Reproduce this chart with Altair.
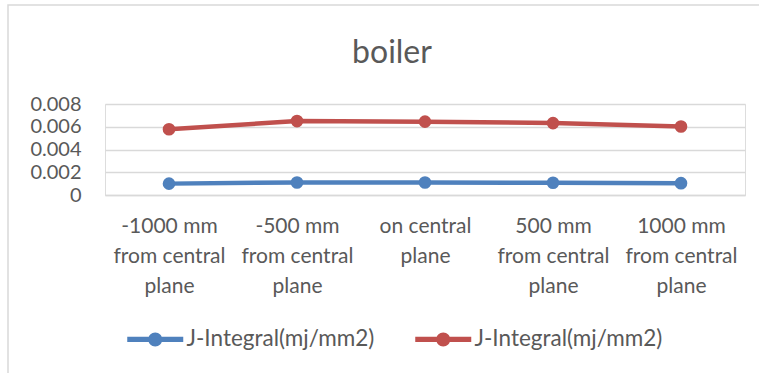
import altair as alt
import pandas as pd

# Measurement positions along the boiler (one label line per "\n")
categories = [
    "-1000 mm\nfrom central\nplane",
    "-500 mm\nfrom central\nplane",
    "on central\nplane",
    "500 mm\nfrom central\nplane",
    "1000 mm\nfrom central\nplane",
]
# Both series share the same display name; the "#n" suffix keeps them apart
series_keys = ["J-Integral(mj/mm2)#1", "J-Integral(mj/mm2)#2"]
series_colors = ["#4F81BD", "#C0504D"]
j_blue = [0.00100, 0.00110, 0.00110, 0.00108, 0.00104]
j_red = [0.00578, 0.00650, 0.00645, 0.00632, 0.00602]
y_ticks = [0, 0.002, 0.004, 0.006, 0.008]

rows = []
for key, vals in zip(series_keys, [j_blue, j_red]):
    for cat, v in zip(categories, vals):
        rows.append({"position": cat, "series": key, "j": v})
df = pd.DataFrame(rows)

FONT = "Lato"
GREY_TEXT = "#595959"
GRID = "#D9D9D9"

# legend glyph: a thick line with a round marker in the middle
legend_glyph = (
    "M-4,-0.36 L-0.9,-0.36 L-0.9,0.36 L-4,0.36 Z "
    "M0.9,-0.36 L4,-0.36 L4,0.36 L0.9,0.36 Z "
    "M-1,0 A1,1 0 1,1 1,0 A1,1 0 1,1 -1,0 Z"
)

x_enc = alt.X(
    "position:N",
    sort=categories,
    scale=alt.Scale(type="point", padding=0.5),
    axis=alt.Axis(
        title=None,
        labelAngle=0,
        labelExpr="split(datum.label, '\\n')",
        labelFont=FONT,
        labelFontSize=21,
        labelColor=GREY_TEXT,
        labelLineHeight=30,
        labelBaseline="top",
        labelPadding=20,
        ticks=False,
        domainColor=GRID,
        domainWidth=1.5,
    ),
)
y_enc = alt.Y(
    "j:Q",
    scale=alt.Scale(domain=[0, 0.008], nice=False),
    axis=alt.Axis(
        title=None,
        values=y_ticks,
        labelExpr="datum.value == 0 ? '0' : format(datum.value, '.3f')",
        labelFont=FONT,
        labelFontSize=20,
        labelColor=GREY_TEXT,
        labelPadding=24,
        ticks=False,
        domain=False,
        grid=True,
        gridColor=GRID,
        gridWidth=1.5,
    ),
)
color_scale = alt.Scale(domain=series_keys, range=series_colors)

lines = alt.Chart(df).mark_line(strokeWidth=4.5).encode(
    x=x_enc,
    y=y_enc,
    color=alt.Color("series:N", scale=color_scale, legend=None),
    detail="series:N",
)
points = alt.Chart(df).mark_point(filled=True, size=160, opacity=1).encode(
    x=x_enc,
    y=y_enc,
    color=alt.Color(
        "series:N",
        scale=color_scale,
        legend=alt.Legend(
            title=None,
            orient="none",
            direction="horizontal",
            legendX=39,
            legendY=224,
            symbolType=legend_glyph,
            symbolSize=196,
            symbolStrokeWidth=0,
            symbolOpacity=1,
            labelExpr="split(datum.label, '#')[0]",
            labelFont=FONT,
            labelFontSize=22.5,
            labelColor=GREY_TEXT,
            labelLimit=400,
            labelOffset=20,
            columnPadding=40,
            padding=0,
        ),
    ),
)

# thin outer frame around the chart area
frame = alt.Chart(pd.DataFrame({"k": [0]})).mark_rect(
    fillOpacity=0, stroke=GRID, strokeWidth=1.5
).encode(
    x=alt.value(-97), x2=alt.value(700), y=alt.value(-99), y2=alt.value(300)
)

chart = alt.layer(frame, lines, points).resolve_legend(
    color="independent"
).properties(
    width=640,
    height=91,
    title=alt.TitleParams(
        "boiler",
        font=FONT,
        fontSize=32,
        fontWeight="normal",
        color=GREY_TEXT,
        anchor="middle",
        frame="group",
        baseline="alphabetic",
        offset=0,
        dx=-33,
        dy=91,
    ),
    padding={"left": 105, "top": 104, "right": 14, "bottom": 178},
    autosize=alt.AutoSizeParams(type="none"),
).configure_view(stroke=None).configure(background="white")

chart.save("out.html", embed_options={"renderer": "svg", "actions": False})
